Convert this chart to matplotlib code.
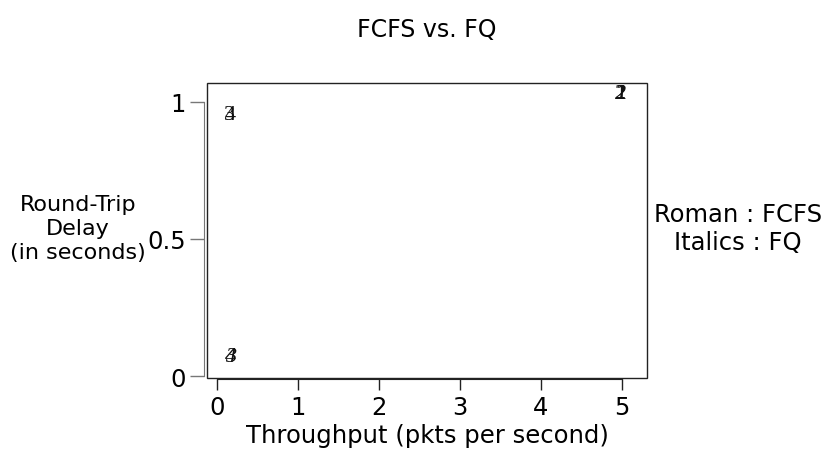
import matplotlib
matplotlib.use("Agg")
import matplotlib.pyplot as plt
from matplotlib.patches import Rectangle

# Data
fcfs_labels = ["1", "2", "3", "4"]
fcfs_throughput = [4.98, 4.98, 0.16, 0.16]
fcfs_delay = [1.03, 1.03, 0.955, 0.955]

fq_labels = ["1", "2", "3", "4"]
fq_throughput = [4.98, 4.98, 0.17, 0.17]
fq_delay = [1.03, 1.03, 0.072, 0.072]

x_ticks = [0, 1, 2, 3, 4, 5]
y_ticks = [0, 0.5, 1]
y_ticklabels = ["0", "0.5", "1"]

plt.rcParams['font.family'] = ['DejaVu Sans']
FS = 17.5

fig = plt.figure(figsize=(8.28, 4.56), dpi=100)
ax = fig.add_axes([207/828, 1-379/456, 440/828, 295/456])
ax.set_xlim(-0.123, 5.31)
ax.set_ylim(-0.007, 1.069)

for s in ["top", "right"]:
    ax.spines[s].set_visible(False)
ax.spines["left"].set_bounds(0, 1)
ax.spines["left"].set_position(("outward", 2))
ax.spines["left"].set_color("#777777")
ax.spines["bottom"].set_bounds(0, 5)
ax.spines["bottom"].set_position(("outward", 1))
ax.spines["bottom"].set_color("#222222")
ax.add_patch(Rectangle((0, 0), 1, 1, transform=ax.transAxes, fill=False,
                       edgecolor="#222222", lw=1.0, clip_on=False))

ax.set_xticks(x_ticks)
ax.set_xticklabels([str(t) for t in x_ticks])
ax.set_yticks(y_ticks)
ax.set_yticklabels(y_ticklabels)
ax.tick_params(axis="y", length=10, width=1, color="#777777", labelsize=FS, pad=3)
ax.tick_params(axis="x", length=8, width=1, color="#222222", labelsize=FS, pad=3)

serif = ["Liberation Serif", "DejaVu Serif"]
for lab, x, y in zip(fcfs_labels, fcfs_throughput, fcfs_delay):
    ax.text(x, y, lab, ha="center", va="center", fontsize=16, family=serif,
            color="#111111")
for lab, x, y in zip(fq_labels, fq_throughput, fq_delay):
    ax.text(x, y, lab, ha="center", va="center", fontsize=16, family=serif,
            style="italic", color="#111111")

fig.text(427/828, 1-30/456, "FCFS vs. FQ", ha="center", va="center", fontsize=17)
fig.text(427/828, 1-436/456, "Throughput (pkts per second)", ha="center",
         va="center", fontsize=FS)
fig.text(78/828, 1-229/456, "Round-Trip\nDelay\n(in seconds)", ha="center",
         va="center", fontsize=16, linespacing=1.25)
fig.text(738/828, 1-229/456, "Roman : FCFS\nItalics : FQ", ha="center",
         va="center", fontsize=FS, linespacing=1.2)

fig.savefig("out.png", dpi=100)
